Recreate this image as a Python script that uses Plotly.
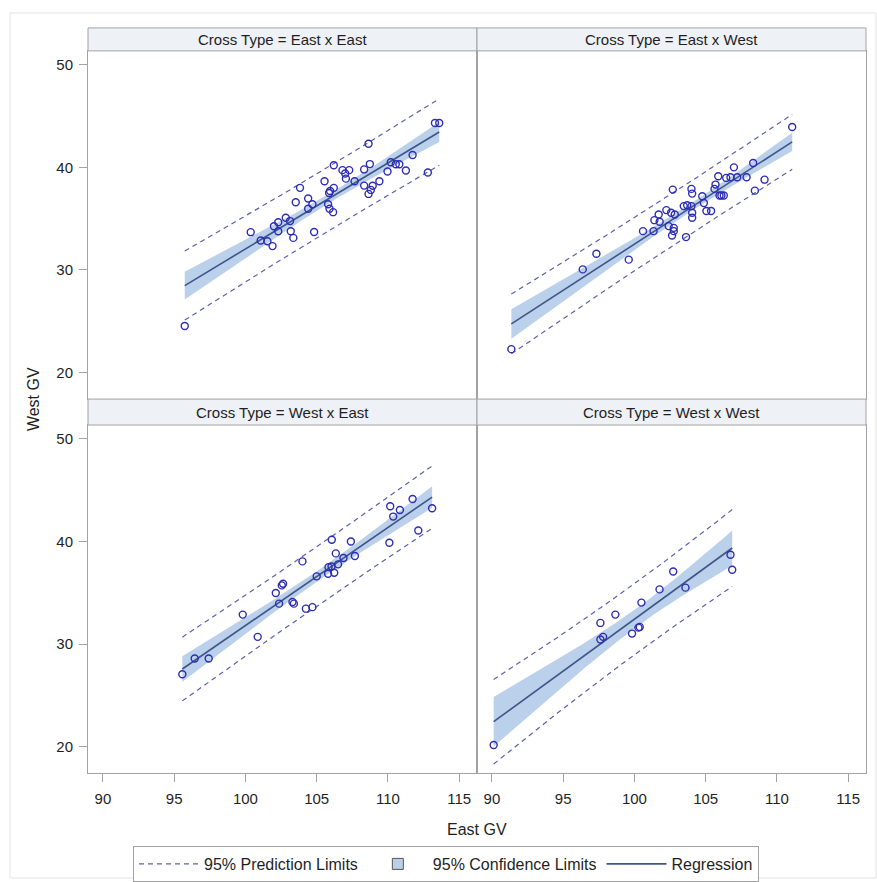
import numpy as np
import plotly.graph_objects as go

W, H = 877, 882

# ---------------- data ----------------
panel_titles = ["Cross Type = East x East", "Cross Type = East x West",
                "Cross Type = West x East", "Cross Type = West x West"]

ee_east = [95.74, 100.37, 101.07, 101.54, 101.9, 102.0, 102.3, 102.3, 102.83, 103.13,
           103.18, 103.36, 103.53, 103.83, 104.4, 104.4, 104.7, 104.82, 105.55, 105.8,
           105.87, 105.94, 105.9, 106.15, 106.2, 106.2, 106.81, 107.0, 107.05, 107.28,
           107.66, 108.33, 108.33, 108.64, 108.73, 108.64, 108.8, 108.93, 109.4, 109.97,
           110.2, 110.55, 110.8, 111.26, 111.73, 112.8, 113.3, 113.6]
ee_west = [24.53, 33.68, 32.87, 32.8, 32.32, 34.26, 34.65, 33.77, 35.08, 34.76,
           33.77, 33.12, 36.6, 38.0, 36.97, 35.96, 36.4, 33.7, 38.64, 36.4,
           37.5, 37.7, 35.96, 35.63, 38.0, 40.2, 39.73, 39.4, 38.9, 39.73,
           38.64, 39.8, 38.22, 42.3, 40.32, 37.41, 37.8, 38.2, 38.64, 39.6,
           40.5, 40.3, 40.3, 39.7, 41.2, 39.5, 44.32, 44.32]

ew_east = [91.36, 96.37, 97.33, 99.6, 100.6, 101.34, 101.4, 101.7, 101.77, 102.24,
           102.4, 102.57, 102.76, 102.76, 102.64, 102.83, 102.69, 103.62, 103.46, 103.7,
           104.0, 104.05, 104.05, 104.0, 104.05, 104.76, 104.87, 105.05, 105.38, 105.62,
           105.69, 105.88, 105.97, 106.1, 106.27, 106.44, 106.74, 106.98, 107.21, 107.87,
           108.33, 108.45, 109.13, 111.07]
ew_west = [22.27, 30.05, 31.57, 31.0, 33.78, 33.78, 34.85, 35.4, 34.7, 35.83,
           34.27, 35.57, 34.1, 33.78, 33.35, 35.4, 37.83, 33.2, 36.22, 36.3,
           36.22, 35.57, 35.08, 37.9, 37.44, 37.18, 36.53, 35.74, 35.74, 37.9,
           38.32, 39.13, 37.25, 37.25, 37.25, 38.97, 39.03, 40.0, 39.03, 39.03,
           40.43, 37.73, 38.8, 43.93]

we_east = [95.57, 96.44, 97.42, 99.81, 100.86, 102.13, 102.36, 102.55, 102.64, 103.3,
           103.4, 104.0, 104.24, 104.7, 105.0, 105.8, 105.83, 106.04, 106.23, 106.06,
           106.34, 106.5, 106.88, 107.4, 107.68, 110.1, 110.16, 110.37, 110.84, 111.73,
           112.13, 113.1]
we_west = [27.06, 28.59, 28.59, 32.87, 30.7, 34.98, 33.94, 35.72, 35.88, 34.1,
           33.94, 38.06, 33.45, 33.6, 36.6, 36.86, 37.5, 37.57, 36.96, 40.17,
           38.84, 37.77, 38.39, 40.0, 38.58, 39.88, 43.44, 42.43, 43.08, 44.15,
           41.07, 43.24]

ww_east = [90.12, 97.61, 97.61, 97.8, 98.66, 99.83, 100.28, 100.37, 100.49, 101.76,
           102.72, 103.58, 106.74, 106.86]
ww_west = [20.16, 32.06, 30.44, 30.7, 32.87, 31.02, 31.6, 31.67, 34.04, 35.33,
           37.08, 35.5, 38.71, 37.25]

x_ticks = [90, 95, 100, 105, 110, 115]
y_ticks = [20, 30, 40, 50]

panel_data = [(ee_east, ee_west), (ew_east, ew_west), (we_east, we_west), (ww_east, ww_west)]

# ---------------- style ----------------
FONT = "Liberation Sans, Arial, sans-serif"
TXT = "#1f1f1f"
FRAME = "#a3a3a3"
MARKER = "#2c2cb4"
FIT = "#3f5588"
PRED = "#5c62ab"
BAND = "rgba(130,170,218,0.55)"
BAND_SOLID = "#bccfe8"


def tcrit(df):
    z = 1.959963985
    g1 = (z**3 + z) / 4
    g2 = (5*z**5 + 16*z**3 + 3*z) / 96
    g3 = (3*z**7 + 19*z**5 + 17*z**3 - 15*z) / 384
    g4 = (79*z**9 + 776*z**7 + 1482*z**5 - 1920*z**3 - 945*z) / 92160
    return z + g1/df + g2/df**2 + g3/df**3 + g4/df**4


def fit(xs, ys):
    x = np.asarray(xs, float)
    y = np.asarray(ys, float)
    n = len(x)
    xb = x.mean()
    sxx = ((x - xb) ** 2).sum()
    b1 = ((x - xb) * (y - y.mean())).sum() / sxx
    b0 = y.mean() - b1 * xb
    s = np.sqrt(((y - b0 - b1 * x) ** 2).sum() / (n - 2))
    t = tcrit(n - 2)
    g = np.linspace(x.min(), x.max(), 80)
    yh = b0 + b1 * g
    se_m = s * np.sqrt(1 / n + (g - xb) ** 2 / sxx)
    se_p = s * np.sqrt(1 + 1 / n + (g - xb) ** 2 / sxx)
    return g, yh, yh - t * se_m, yh + t * se_m, yh - t * se_p, yh + t * se_p


def px(v):
    return v / W


def py(v):
    return 1 - v / H


# panel pixel boxes: (left, right, top, bottom)
boxes = [(88, 477, 51, 400), (477, 866, 51, 400), (88, 477, 426, 775), (477, 866, 426, 775)]
headers = [(88, 477, 28, 51), (477, 866, 28, 51), (88, 477, 400, 426), (477, 866, 400, 426)]

fig = go.Figure()

for i, (xs, ys) in enumerate(panel_data):
    k = "" if i == 0 else str(i + 1)
    xa, ya = "x" + k, "y" + k
    g, yh, clo, chi, plo, phi = fit(xs, ys)
    first = i == 0
    fig.add_trace(go.Scatter(x=g, y=clo, xaxis=xa, yaxis=ya, mode="lines",
                             line=dict(width=0, color=BAND), hoverinfo="skip",
                             showlegend=False))
    fig.add_trace(go.Scatter(x=g, y=chi, xaxis=xa, yaxis=ya, mode="lines",
                             line=dict(width=0, color=BAND), fill="tonexty",
                             fillcolor=BAND, name="95% Confidence Limits",
                             showlegend=False))
    fig.add_trace(go.Scatter(x=g, y=plo, xaxis=xa, yaxis=ya, mode="lines",
                             line=dict(width=1.2, color=PRED, dash="5px,4px"),
                             showlegend=False))
    fig.add_trace(go.Scatter(x=g, y=phi, xaxis=xa, yaxis=ya, mode="lines",
                             line=dict(width=1.2, color=PRED, dash="5px,4px"),
                             name="95% Prediction Limits", legendrank=1,
                             showlegend=first))
    fig.add_trace(go.Scatter(x=g, y=yh, xaxis=xa, yaxis=ya, mode="lines",
                             line=dict(width=1.6, color=FIT), name="Regression",
                             legendrank=3, showlegend=first))
    fig.add_trace(go.Scatter(x=xs, y=ys, xaxis=xa, yaxis=ya, mode="markers",
                             marker=dict(symbol="circle-open", size=7,
                                         line=dict(width=1.4, color=MARKER),
                                         color=MARKER),
                             showlegend=False))

# legend-only entry for the confidence band (square swatch)
fig.add_trace(go.Scatter(x=[None], y=[None], mode="markers", name="95% Confidence Limits",
                         marker=dict(symbol="square", size=11, color=BAND_SOLID,
                                     line=dict(color="#555555", width=1)),
                         legendrank=2, showlegend=True))

layout = dict(
    width=W, height=H,
    margin=dict(l=0, r=0, t=0, b=0),
    paper_bgcolor="white", plot_bgcolor="white",
    font=dict(family=FONT, size=15, color=TXT),
    legend=dict(orientation="h", x=px(446), xanchor="center", y=py(848), yanchor="top",
                bordercolor=FRAME, borderwidth=1, bgcolor="white",
                font=dict(size=16, family=FONT, color=TXT), itemwidth=60,
                traceorder="normal"),
)

for i, (l, r, t, b) in enumerate(boxes):
    k = "" if i == 0 else str(i + 1)
    bottom_row = i >= 2
    left_col = i % 2 == 0
    layout["xaxis" + k] = dict(
        domain=[px(l), px(r)], range=[88.95, 116.25], anchor="y" + k,
        tickvals=x_ticks, showticklabels=bottom_row,
        ticks="outside" if bottom_row else "", ticklen=8, tickcolor=FRAME,
        ticklabelstandoff=4,
        showline=True, linecolor=FRAME, linewidth=1, mirror=True,
        showgrid=False, zeroline=False,
        tickfont=dict(size=15, family=FONT, color=TXT),
    )
    layout["yaxis" + k] = dict(
        domain=[py(b), py(t)], range=[17.4, 51.36], anchor="x" + k,
        tickvals=y_ticks, showticklabels=left_col,
        ticks="outside" if left_col else "", ticklen=8, tickcolor=FRAME,
        ticklabelstandoff=3,
        showline=True, linecolor=FRAME, linewidth=1, mirror=True,
        showgrid=False, zeroline=False,
        tickfont=dict(size=15, family=FONT, color=TXT),
    )

shapes = [dict(type="rect", xref="paper", yref="paper", x0=px(10), x1=px(876),
               y0=py(880), y1=py(13), line=dict(color="#e3e3e3", width=1),
               fillcolor="rgba(0,0,0,0)", layer="below")]
annotations = []
for (l, r, t, b), title in zip(headers, panel_titles):
    shapes.append(dict(type="rect", xref="paper", yref="paper", x0=px(l), x1=px(r),
                       y0=py(b), y1=py(t), line=dict(color=FRAME, width=1),
                       fillcolor="#eef1f6"))
    annotations.append(dict(text=title, xref="paper", yref="paper",
                            x=px((l + r) / 2), y=py((t + b) / 2),
                            xanchor="center", yanchor="middle", showarrow=False,
                            font=dict(size=15, family=FONT, color=TXT)))

annotations.append(dict(text="East GV", xref="paper", yref="paper", x=px(477), y=py(831),
                        xanchor="center", yanchor="middle", showarrow=False,
                        font=dict(size=16, family=FONT, color=TXT)))
annotations.append(dict(text="West GV", xref="paper", yref="paper", x=px(33), y=py(400),
                        xanchor="center", yanchor="middle", showarrow=False,
                        textangle=-90, font=dict(size=16, family=FONT, color=TXT)))

layout["shapes"] = shapes
layout["annotations"] = annotations
fig.update_layout(**layout)

fig.write_html("out.html")
